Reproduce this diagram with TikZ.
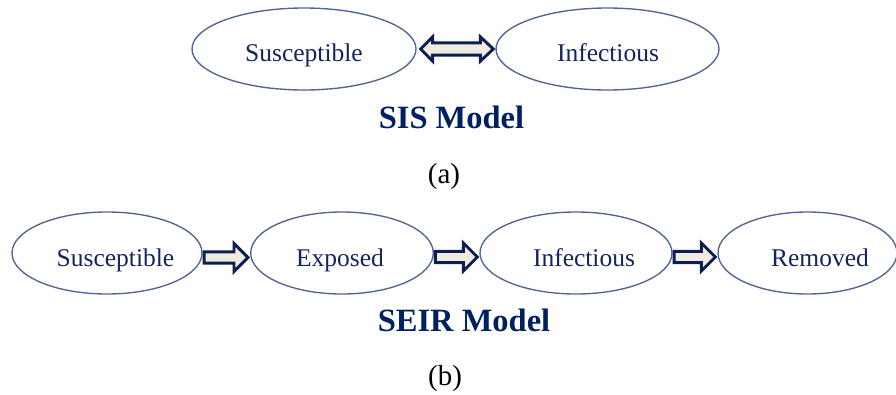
\documentclass[tikz,border=0pt]{standalone}
\usepackage{fontspec}
\setmainfont{Liberation Serif}
\usetikzlibrary{shapes.geometric,calc}

\definecolor{ringblue}{RGB}{80,100,148}
\definecolor{titlenavy}{RGB}{0,32,96}
\definecolor{labelnavy}{RGB}{20,36,96}
\definecolor{arrowfill}{RGB}{238,236,222}
\definecolor{arrowline}{RGB}{12,30,82}

\tikzset{
  state/.style={ellipse, draw=ringblue, line width=1.35pt, inner sep=0pt},
  lbl/.style={anchor=base, text=labelnavy, inner sep=0pt,
              font=\fontsize{25.5}{30}\selectfont},
  modeltitle/.style={anchor=base, text=titlenavy, inner sep=0pt,
              font=\bfseries\fontsize{32.5}{38}\selectfont},
  subcap/.style={anchor=base, text=black, inner sep=0pt,
              font=\fontsize{29}{34}\selectfont},
  fat/.style={draw=arrowline, fill=arrowfill, line width=2.9pt, line join=miter},
}

% block arrow from anchor #1 to anchor #2, axis moved down by #3
\newcommand{\fatarrow}[3]{%
  \draw[fat] let \p1=($(#1)+(0,#3)$), \p2=(#2) in
    (\x1+1.4pt,\y1+5.6pt) -- (\x2-16pt,\y1+5.6pt) -- (\x2-16pt,\y1+14pt)
    -- (\x2-2pt,\y1) -- (\x2-16pt,\y1-14pt) -- (\x2-16pt,\y1-5.6pt)
    -- (\x1+1.4pt,\y1-5.6pt) -- cycle;}

% two-headed block arrow between anchors #1 and #2
\newcommand{\fatdoublearrow}[2]{%
  \draw[fat] let \p1=(#1), \p2=(#2) in
    (\x1+4pt,\y1) -- (\x1+16pt,\y1+12.2pt) -- (\x1+16pt,\y1+6.1pt)
    -- (\x2-15pt,\y1+6.1pt) -- (\x2-15pt,\y1+12.2pt) -- (\x2-2pt,\y1)
    -- (\x2-15pt,\y1-12.2pt) -- (\x2-15pt,\y1-6.1pt) -- (\x1+16pt,\y1-6.1pt)
    -- (\x1+16pt,\y1-12.2pt) -- cycle;}

\begin{document}
\begin{tikzpicture}[x=1pt,y=-1pt]
  \useasboundingbox (0,0) rectangle (896,394);

  % SIS model
  \node[state, minimum width=224pt, minimum height=82pt] (s1) at (304,49) {};
  \node[state, minimum width=223pt, minimum height=82pt] (i1) at (607.5,49) {};
  \node[lbl] (s1t) at ($(s1)+(0,12)$) {Susceptible};
  \node[lbl] (i1t) at ($(i1)+(0.5,12)$) {Infectious};
  \fatdoublearrow{s1.east}{i1.west}
  \node[modeltitle] (sis) at (451.5,128) {SIS Model};
  \node[subcap] (capa) at (444,183) {(a)};

  % SEIR model
  \node[state, minimum width=190pt, minimum height=82pt] (s2) at (107,253) {};
  \node[state, minimum width=182.6pt, minimum height=82pt] (e2) at (342,253) {};
  \node[state, minimum width=192pt, minimum height=82pt] (i2) at (576,253) {};
  \node[state, minimum width=179pt, minimum height=82pt] (r2) at (807.5,253) {};
  \node[lbl] (s2t) at ($(s2)+(8.5,13)$) {Susceptible};
  \node[lbl] (e2t) at ($(e2)+(-2,13)$) {Exposed};
  \node[lbl] (i2t) at ($(i2)+(8,13)$) {Infectious};
  \node[lbl] (r2t) at ($(r2)+(12.5,13)$) {Removed};
  \fatarrow{s2.east}{e2.west}{4.5}
  \fatarrow{e2.east}{i2.west}{4}
  \fatarrow{i2.east}{r2.west}{4}
  \node[modeltitle] (seir) at (464,331.7) {SEIR Model};
  \node[subcap] (capb) at (445,385) {(b)};
\end{tikzpicture}
\end{document}
